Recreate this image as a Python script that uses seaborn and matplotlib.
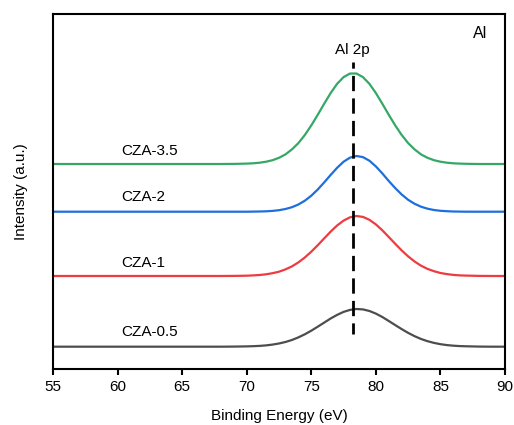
import numpy as np
import pandas as pd
import seaborn as sns
import matplotlib
matplotlib.use("Agg")
import matplotlib.pyplot as plt

# ---- data ----
binding_energy = [55, 60, 65, 68, 69,
                  70, 70.5, 71, 71.5, 72, 72.5, 73, 73.5, 74, 74.5, 75, 75.5,
                  76, 76.5, 77, 77.5, 78, 78.5, 79, 79.5, 80, 80.5, 81, 81.5,
                  82, 82.5, 83, 83.5, 84, 84.5, 85, 85.5, 86, 86.5, 87,
                  88, 89, 90]

cza_3_5 = [205, 205, 205, 205, 205.1,
           205.4, 205.7, 206.3, 207.3, 208.8, 211.2, 214.6, 219.6, 225.9, 234.0, 243.6, 254.2,
           265.3, 276.0, 285.2, 291.9, 295.5, 295.5, 291.9, 285.2, 276.0, 265.3, 254.2, 243.6,
           234.0, 225.9, 219.6, 214.6, 211.2, 208.8, 207.3, 206.3, 205.7, 205.4, 205.2,
           205, 205, 205]

cza_2 = [157.3, 157.3, 157.3, 157.3, 157.3,
         157.3, 157.4, 157.5, 157.7, 158.1, 158.8, 160.0, 161.8, 164.5, 168.3, 173.3, 179.5,
         186.6, 194.1, 201.2, 207.3, 211.4, 213.0, 211.9, 208.3, 202.6, 195.6, 188.0, 180.9,
         174.5, 169.2, 165.2, 162.3, 160.3, 159.0, 158.2, 157.8, 157.5, 157.4, 157.3,
         157.3, 157.3, 157.3]

cza_1 = [93, 93, 93, 93.0, 93.1,
         93.3, 93.6, 94.0, 94.7, 95.8, 97.3, 99.6, 102.6, 106.6, 111.5, 117.3, 123.8,
         130.6, 137.4, 143.5, 148.4, 151.7, 153.0, 152.1, 149.2, 144.6, 138.7, 132.0, 125.2,
         118.6, 112.6, 107.5, 103.3, 100.1, 97.8, 96.0, 94.9, 94.1, 93.6, 93.4,
         93.1, 93, 93]

cza_0_5 = [22.3, 22.3, 22.3, 22.3, 22.4,
           22.6, 22.8, 23.1, 23.6, 24.4, 25.5, 27.0, 29.0, 31.6, 34.7, 38.3, 42.3,
           46.4, 50.5, 54.1, 57.1, 59.1, 60.0, 59.6, 58.0, 55.4, 52.0, 48.0, 43.9,
           39.9, 36.1, 32.8, 30.0, 27.8, 26.1, 24.8, 23.9, 23.3, 22.9, 22.7,
           22.4, 22.3, 22.3]

sample_names = ["CZA-0.5", "CZA-1", "CZA-2", "CZA-3.5"]
sample_label_x = [60.3, 60.3, 60.3, 60.3]
sample_label_y = [37, 106, 172, 218]
peak_position = 78.2
peak_label = "Al 2p"
element_label = "Al"
x_ticks = [55, 60, 65, 70, 75, 80, 85, 90]

colors = {"CZA-0.5": "#4d4d4d", "CZA-1": "#ee3b3f",
          "CZA-2": "#1e6fdc", "CZA-3.5": "#35a866"}

series = {"CZA-0.5": cza_0_5, "CZA-1": cza_1, "CZA-2": cza_2, "CZA-3.5": cza_3_5}
frames = []
for name, vals in series.items():
    frames.append(pd.DataFrame({"x": binding_energy, "y": vals, "sample": name}))
df = pd.concat(frames, ignore_index=True)

# ---- plot ----
sns.set_theme(style="ticks")
plt.rcParams["font.family"] = ["Liberation Sans", "DejaVu Sans"]
plt.rcParams["text.color"] = "black"
plt.rcParams["axes.labelcolor"] = "black"
plt.rcParams["xtick.color"] = "black"
plt.rcParams["ytick.color"] = "black"

fig = plt.figure(figsize=(5.14, 4.25), dpi=100)
ax = fig.add_axes([0.1031, 0.1318, 0.8794, 0.8352])

sns.lineplot(data=df, x="x", y="y", hue="sample", palette=colors,
             linewidth=1.6, legend=False, ax=ax, sort=False, estimator=None)

ax.axvline(peak_position, ymin=0.098, ymax=0.865, color="black",
           linestyle=(1.5, (5.5, 2.6)), linewidth=2.0, zorder=5)

for name, lx, ly in zip(sample_names, sample_label_x, sample_label_y):
    ax.text(lx, ly, name, ha="left", va="center", fontsize=11, color="black")

ax.text(peak_position, 319, peak_label, ha="center", va="center", fontsize=11)
ax.text(0.945, 0.946, element_label, transform=ax.transAxes,
        ha="center", va="center", fontsize=11.5)

ax.set_xlim(55, 90)
ax.set_ylim(0, 355)
ax.set_xticks(x_ticks)
ax.set_yticks([])
ax.set_xlabel("Binding Energy (eV)", fontsize=11, labelpad=11)
ax.set_ylabel("Intensity (a.u.)", fontsize=11, labelpad=18)
ax.tick_params(axis="x", direction="out", length=4, width=1.5, labelsize=11, pad=4)

for s in ax.spines.values():
    s.set_visible(True)
    s.set_linewidth(1.5)
    s.set_color("black")

fig.savefig("out.png", dpi=100)
